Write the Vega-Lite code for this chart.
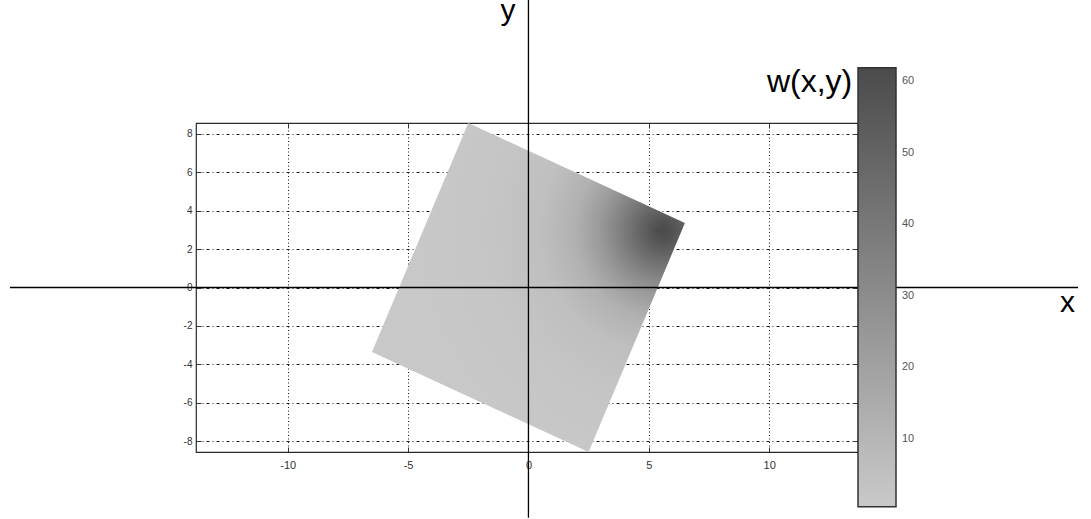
{
  "$schema": "https://vega.github.io/schema/vega-lite/v6.json",
  "width": 662,
  "height": 329,
  "autosize": {"type": "none"},
  "padding": {"left": 196, "top": 123, "right": 233, "bottom": 67},
  "background": "white",
  "config": {
    "view": {"stroke": "#2a2a2a", "strokeWidth": 1.2},
    "font": "Liberation Sans"
  },
  "datasets": {
    "square": [
      {"x": -6.5, "top": -3.36, "bottom": -3.36},
      {"x": -2.5, "top": 8.57, "bottom": -5.68},
      {"x": 2.5, "top": 5.68, "bottom": -8.57},
      {"x": 6.5, "top": 3.36, "bottom": 3.36}
    ],
    "peak": [
      {"x": 5.34, "y": 2.94, "w": 61.9}
    ],
    "axisLines": [
      {"x": -21.54, "x2": 22.83, "y": 0, "y2": 0},
      {"x": 0, "x2": 0, "y": -12, "y2": 15}
    ],
    "axisNames": [
      {"x": 22.39, "y": -1.26, "name": "x"},
      {"x": -0.85, "y": 13.95, "name": "y"}
    ],
    "colorbarLabel": [
      {"x": 13.45, "y": 10.19, "name": "w(x,y)"}
    ]
  },
  "resolve": {"axis": {"x": "independent", "y": "independent"}},
  "layer": [
    {
      "data": {"name": "square"},
      "mark": {
        "type": "area",
        "interpolate": "linear",
        "stroke": null,
        "fill": {
          "gradient": "radial",
          "x1": 0.911, "y1": 0.328, "r1": 0,
          "x2": 0.911, "y2": 0.328, "r2": 0.75,
          "stops": [
            {"offset": 0, "color": "#4b4b4b"},
            {"offset": 0.04, "color": "#535353"},
            {"offset": 0.09, "color": "#636363"},
            {"offset": 0.17, "color": "#7e7e7e"},
            {"offset": 0.26, "color": "#9a9a9a"},
            {"offset": 0.36, "color": "#b1b1b1"},
            {"offset": 0.5, "color": "#bfbfbf"},
            {"offset": 0.7, "color": "#c5c5c5"},
            {"offset": 1, "color": "#c8c8c8"}
          ]
        }
      },
      "encoding": {
        "x": {
          "field": "x", "type": "quantitative",
          "scale": {"domain": [-13.81, 13.69], "nice": false, "zero": false},
          "axis": {
            "orient": "bottom", "title": null, "values": [-10, -5, 0, 5, 10],
            "labelExpr": "toString(datum.value)",
            "domain": false, "tickSize": -5, "tickColor": "#333333", "tickWidth": 1,
            "labelPadding": 12, "labelFontSize": 11, "labelColor": "#333333",
            "labelFont": "Liberation Sans",
            "grid": true, "gridColor": "#000000", "gridDash": [1, 2.5], "gridWidth": 1, "gridOpacity": 0.9
          }
        },
        "y": {
          "field": "top", "type": "quantitative",
          "scale": {"domain": [-8.57, 8.57], "nice": false, "zero": false},
          "axis": {
            "orient": "left", "title": null, "values": [-8, -6, -4, -2, 0, 2, 4, 6, 8],
            "labelExpr": "toString(datum.value)",
            "domain": false, "tickSize": -5, "tickColor": "#333333", "tickWidth": 1,
            "labelPadding": 9, "labelFontSize": 10, "labelColor": "#333333",
            "labelFont": "Liberation Sans",
            "grid": true, "gridColor": "#000000", "gridDash": [3, 3, 1, 3], "gridWidth": 1, "gridOpacity": 0.9
          }
        },
        "y2": {"field": "bottom"}
      }
    },
    {
      "data": {"name": "axisLines"},
      "mark": {"type": "rule", "color": "#000000", "strokeWidth": 1.3},
      "encoding": {
        "x": {
          "field": "x", "type": "quantitative",
          "axis": {
            "orient": "top", "title": null, "values": [-10, -5, 0, 5, 10],
            "domain": false, "labels": false, "grid": false,
            "tickSize": -5, "tickColor": "#333333", "tickWidth": 1
          }
        },
        "x2": {"field": "x2"},
        "y": {
          "field": "y", "type": "quantitative",
          "axis": {
            "orient": "right", "title": null, "values": [-8, -6, -4, -2, 0, 2, 4, 6, 8],
            "domain": false, "labels": false, "grid": false,
            "tickSize": -5, "tickColor": "#333333", "tickWidth": 1
          }
        },
        "y2": {"field": "y2"}
      }
    },
    {
      "data": {"name": "peak"},
      "mark": {"type": "point", "filled": true, "shape": "circle", "size": 16, "opacity": 1},
      "encoding": {
        "x": {"field": "x", "type": "quantitative", "axis": null},
        "y": {"field": "y", "type": "quantitative", "axis": null},
        "color": {
          "field": "w", "type": "quantitative",
          "scale": {"domain": [0.5, 61.9], "range": ["#c9c9c9", "#4b4b4b"], "interpolate": "rgb"},
          "legend": {
            "orient": "none", "legendX": 662, "legendY": -55.3,
            "title": null, "direction": "vertical", "padding": 0,
            "gradientLength": 439, "gradientThickness": 38,
            "gradientStrokeColor": "#333333", "gradientStrokeWidth": 1.5,
            "values": [10, 20, 30, 40, 50, 60],
            "labelFontSize": 11, "labelColor": "#555555", "labelFont": "Liberation Sans",
            "labelOffset": 6, "labelOverlap": false
          }
        }
      }
    },
    {
      "data": {"name": "axisNames"},
      "mark": {"type": "text", "font": "Liberation Sans", "fontSize": 30, "align": "center", "baseline": "alphabetic", "color": "#000000"},
      "encoding": {
        "x": {"field": "x", "type": "quantitative", "axis": null},
        "y": {"field": "y", "type": "quantitative", "axis": null},
        "text": {"field": "name"}
      }
    },
    {
      "data": {"name": "colorbarLabel"},
      "mark": {"type": "text", "font": "Liberation Sans", "fontSize": 32, "align": "right", "baseline": "alphabetic", "color": "#000000"},
      "encoding": {
        "x": {"field": "x", "type": "quantitative", "axis": null},
        "y": {"field": "y", "type": "quantitative", "axis": null},
        "text": {"field": "name"}
      }
    }
  ]
}
